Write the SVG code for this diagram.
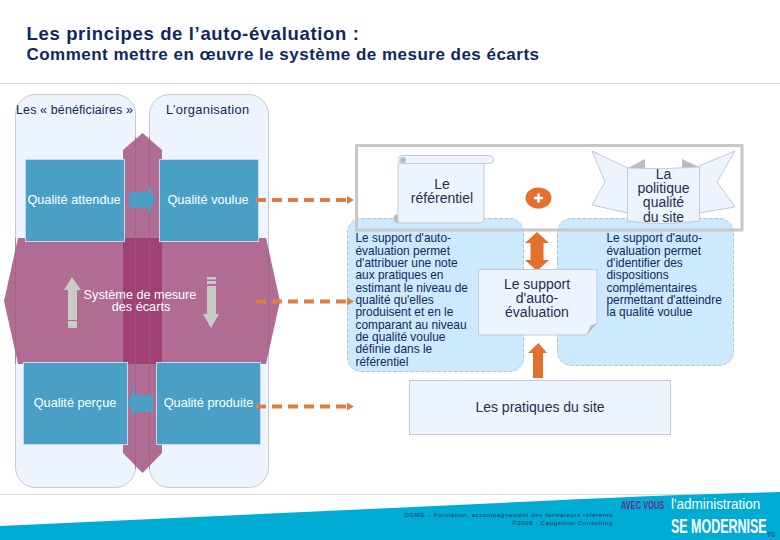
<svg xmlns="http://www.w3.org/2000/svg" width="780" height="540" viewBox="0 0 780 540">
<defs>
<style>
text{font-family:"Liberation Sans",Arial,sans-serif;fill:#10285c}
.panel{fill:#eef4fd;stroke:#c3c9d6;stroke-width:1}
.qbox{fill:#4a9fc6;stroke:#c9d6e6;stroke-width:1}
.qt{font-size:12.7px;fill:#fff;text-anchor:middle}
.small{fill:#4a9fc6}
.grey{fill:#c9cbc9}
.paper{fill:#eef4fd;stroke:#c3c9d6;stroke-width:1}
.fold{fill:#b8bcc4}
.note{fill:#cce9fd;stroke:#b4c6d8;stroke-width:1;stroke-dasharray:4 1.5}
.body{font-size:11.9px}
.big{font-size:14px;text-anchor:middle;fill:#1c3050}
.dash{stroke:#db7f45;stroke-width:4;stroke-dasharray:10 6;fill:none}
.dhead{fill:#db7f45}
.or{fill:#e2702e}
.foot{font-size:6px;text-anchor:end;letter-spacing:.68px}
</style>
</defs>
<rect width="780" height="540" fill="#fff"/>
<g id="title">
<text x="26.500" y="40" font-size="18.500" font-weight="700" textLength="332.500" lengthAdjust="spacing">Les principes de l’auto-évaluation :</text>
<text x="26.500" y="60" font-size="17" font-weight="700" textLength="512.500" lengthAdjust="spacing">Comment mettre en œuvre le système de mesure des écarts</text>
</g>
<path d="M0 83.500H780" stroke="#dcdcdc"/>
<path d="M0 494.500H780" stroke="#dcdcdc"/>
<g id="footer">
<path d="M0 526L500 503Q650 495 780 492V540H0Z" fill="#00acd3"/>
<text class="foot" x="613" y="517">DGME – Formation, accompagnement des formateurs référents</text>
<text class="foot" x="613" y="525">©2008 - Capgemini Consulting</text>
<text transform="translate(621 509) scale(.71 1)" font-size="10.500" font-weight="700" style="fill:#6a2c91">AVEC VOUS</text>
<text transform="translate(671 509) scale(.96 1)" font-size="14" style="fill:#fff">l'administration</text>
<text transform="translate(671 533) scale(.64 1)" font-size="19.500" font-weight="700" style="fill:#fff">SE MODERNISE</text>
<text x="767" y="537" font-size="7">70</text>
</g>
<g id="panel-beneficiaires"><rect class="panel" x="15.500" y="94.500" width="120" height="393" rx="20"/></g>
<g id="panel-organisation"><rect class="panel" x="149.500" y="94.500" width="119" height="393" rx="20"/></g>
<g id="cross-arrows">
<path d="M142.500 133L162 150V453L142.500 473L123 453V150Z" fill="#b06c92"/>
<path d="M18 238H266L280 301L266 364H18L4 301Z" fill="#b06c92"/>
<rect x="123" y="238" width="39" height="126" fill="#9f4173"/>
<path d="M135.500 137V469M149.500 137V469M15.500 238V364M268.500 250V352" stroke="#9b5c80" stroke-width="1" opacity=".6"/>
</g>
<g id="text-beneficiaires"><text x="16" y="114" font-size="12.500" textLength="117" lengthAdjust="spacing">Les « bénéficiaires »</text></g>
<g id="text-organisation"><text x="166" y="114" font-size="12.800" textLength="83" lengthAdjust="spacing">L’organisation</text></g>
<g id="q-attendue"><rect class="qbox" x="25.500" y="159.500" width="99" height="82"/><text class="qt" x="74" y="204">Qualité attendue</text></g>
<g id="q-voulue"><rect class="qbox" x="159.500" y="159.500" width="99" height="82"/><text class="qt" x="208" y="204">Qualité voulue</text></g>
<g id="q-percue"><rect class="qbox" x="23.500" y="362.500" width="104" height="82"/><text class="qt" x="75" y="407">Qualité perçue</text></g>
<g id="q-produite"><rect class="qbox" x="156.500" y="362.500" width="104" height="82"/><text class="qt" x="208.500" y="407">Qualité produite</text></g>
<g id="small-arrows">
<path class="small" d="M129 192H148V184L155 199.500L148 215V208H129Z"/>
<path class="small" d="M153 395H135V387L128 403L135 418V412H153Z"/>
<path class="grey" d="M72 277L81 290H77V320H68V290H64Z"/>
<rect class="grey" x="68" y="321" width="9" height="7"/>
<rect class="grey" x="207" y="277" width="9" height="2.500"/>
<rect class="grey" x="207" y="281" width="9" height="3"/>
<path class="grey" d="M207 286H216V314H219L211 328L203 314H207Z"/>
</g>
<g id="systeme"><text class="qt" x="140" y="299">Système de mesure</text><text class="qt" x="141" y="311">des écarts</text></g>
<g id="note-left"><rect class="note" x="347.500" y="218.500" width="176" height="153" rx="14"/>
<text class="body" x="355.500" y="242">Le support d'auto-</text>
<text class="body" x="355.500" y="254.500">évaluation permet</text>
<text class="body" x="355.500" y="267">d'attribuer une note</text>
<text class="body" x="355.500" y="279">aux pratiques en</text>
<text class="body" x="355.500" y="291.500">estimant le niveau de</text>
<text class="body" x="355.500" y="304">qualité qu'elles</text>
<text class="body" x="355.500" y="316">produisent et en le</text>
<text class="body" x="355.500" y="328.500">comparant au niveau</text>
<text class="body" x="355.500" y="340.500">de qualité voulue</text>
<text class="body" x="355.500" y="353">définie dans le</text>
<text class="body" x="355.500" y="365.500">référentiel</text></g>
<g id="note-right"><rect class="note" x="557.500" y="218.500" width="176" height="147" rx="14"/>
<text class="body" x="606.500" y="242">Le support d'auto-</text>
<text class="body" x="606.500" y="254.500">évaluation permet</text>
<text class="body" x="606.500" y="267">d'identifier des</text>
<text class="body" x="606.500" y="279">dispositions</text>
<text class="body" x="606.500" y="291.500">complémentaires</text>
<text class="body" x="606.500" y="304">permettant d'atteindre</text>
<text class="body" x="606.500" y="316">la qualité voulue</text></g>
<g id="frame"><rect x="356.500" y="145.500" width="385.500" height="84.500" fill="none" stroke="#c8c8c8" stroke-width="3"/></g>
<g id="referentiel">
<path class="fold" d="M398 214A4.500 4.500 0 0 0 398 223H402V214Z"/>
<path class="paper" d="M398 163H484V219Q484 223 480 223H398Z"/>
<rect class="paper" x="398.500" y="155.500" width="95" height="8" rx="4"/>
<circle class="fold" cx="403" cy="160" r="3"/>
<text class="big" x="442" y="188.500">Le</text><text class="big" x="442" y="203">référentiel</text>
</g>
<g id="plus">
<ellipse class="or" cx="538.500" cy="198" rx="13" ry="10.500"/>
<path d="M538.500 193.500V202.500M534 198H543" stroke="#fff" stroke-width="2.500"/>
</g>
<g id="politique">
<path class="paper" d="M592 151L628 168V213L592 205L605 182Z"/>
<path class="paper" d="M735 151L699 166V213L735 207L717 182Z"/>
<path class="fold" d="M628 168L645 159V168Z"/>
<path class="fold" d="M682 159L699 167L682 168Z"/>
<path class="paper" d="M627.500 168Q663 170 699.500 167V221Q663 226 627.500 221Z"/>
<text class="big" x="663.500" y="178.500">La</text><text class="big" x="663.500" y="192.500">politique</text><text class="big" x="663.500" y="207">qualité</text><text class="big" x="663.500" y="221.500">du site</text>
</g>
<g id="connectors">
<path class="or" d="M537 232L549 243H543.500V260H549L537 271L525 260H530.500V243H525Z"/>
<path class="or" d="M538.500 343L547 353H543V378H533V353H528Z"/>
<path class="dash" d="M256 200H346"/><path class="dhead" d="M347 196V204L354 200Z"/>
<path class="dash" d="M256 301.500H346"/><path class="dhead" d="M347 297.500V305.500L354 301.500Z"/>
<path class="dash" d="M256 406.500H346"/><path class="dhead" d="M347 402.500V410.500L354 406.500Z"/>
</g>
<g id="support">
<path class="paper" d="M478.500 269.500H597V323L586 335H478.500Z"/>
<path class="fold" d="M587 335L590 326L597 323Z"/>
<text class="big" x="537" y="289">Le support</text><text class="big" x="537" y="303">d'auto-</text><text class="big" x="537" y="317">évaluation</text>
</g>
<g id="pratiques"><rect class="paper" x="409.500" y="380.500" width="261" height="54"/><text class="big" x="540" y="412">Les pratiques du site</text></g>
</svg>
